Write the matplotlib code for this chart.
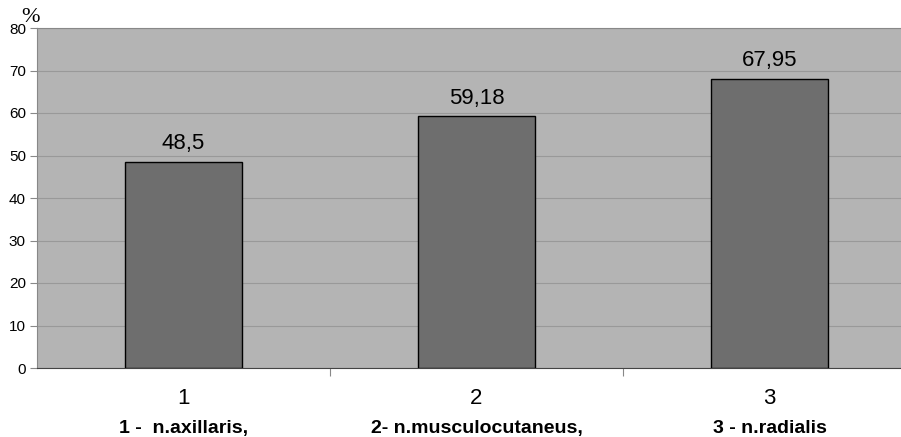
import matplotlib
matplotlib.use("Agg")
import matplotlib.pyplot as plt
import matplotlib.transforms as mtransforms

categories = ["1", "2", "3"]
values = [48.5, 59.18, 67.95]
value_labels = ["48,5", "59,18", "67,95"]
nerve_labels = ["1 -  n.axillaris,", "2- n.musculocutaneus,", "3 - n.radialis"]
y_ticks = [0, 10, 20, 30, 40, 50, 60, 70, 80]

plt.rcParams['font.family'] = ['Liberation Sans', 'DejaVu Sans']

fig = plt.figure(figsize=(9.01, 4.37), dpi=100)
# plot area runs past the right edge of the figure
ax = fig.add_axes([37 / 901, 69 / 437, 879 / 901, 340 / 437])
ax.set_facecolor('#b4b4b4')

x = range(1, len(categories) + 1)
ax.bar(x, values, width=0.4, color='#6e6e6e', edgecolor='black', linewidth=1, zorder=3)

for xi, v, lab in zip(x, values, value_labels):
    ax.text(xi, v + 3.0, lab, ha='center', va='baseline', fontsize=16, zorder=4)

ax.set_xlim(0.5, 3.5)
ax.set_ylim(0, 80)
ax.set_yticks(y_ticks)
ax.set_yticklabels([str(t) for t in y_ticks], fontsize=11)
ax.grid(axis='y', color='#999999', linewidth=0.8, zorder=1)

# category numbers under the axis, ticks between categories
ax.set_xticks([1.5, 2.5])
ax.set_xticklabels([])
ax.tick_params(axis='x', length=6, color='#888888', direction='out')
ax.tick_params(axis='y', length=5, color='#888888', direction='out', pad=3)
trans = mtransforms.blended_transform_factory(ax.transData, fig.transFigure)
for xi, c, nl in zip(x, categories, nerve_labels):
    ax.text(xi, 1 - 404 / 437, c, ha='center', va='baseline', fontsize=16, transform=trans)
    ax.text(xi, 1 - 433 / 437, nl, ha='center', va='baseline', fontsize=14,
            fontweight='bold', transform=trans)

for side in ['top', 'left', 'right']:
    ax.spines[side].set_color('#888888')
ax.spines['bottom'].set_color('#444444')

fig.text(21 / 901, 1 - 18 / 437, '%', fontsize=16, family='Liberation Serif',
         ha='left', va='center')

fig.savefig('out.png', dpi=100)
